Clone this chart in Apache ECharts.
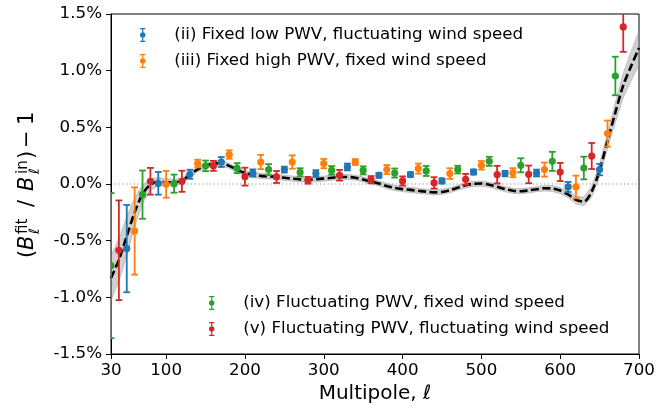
<!DOCTYPE html>
<html>
<head>
<meta charset="utf-8">
<script src="https://cdn.jsdelivr.net/npm/echarts@6/dist/echarts.min.js"></script>
<style>
  html, body { margin: 0; padding: 0; background: #fff; }
  #chart { width: 670px; height: 414px; }
</style>
</head>
<body>
<div id="chart"></div>
<script>
const FONT = '"DejaVu Sans", "Noto Sans", sans-serif';

// Multipole ticks on the x axis
const xTickValues = [30, 100, 200, 300, 400, 500, 600, 700];

const seriesNames = [
  '(ii) Fixed low PWV, fluctuating wind speed',
  '(iii) Fixed high PWV, fixed wind speed',
  '(iv) Fluctuating PWV, fixed wind speed',
  '(v) Fluctuating PWV, fluctuating wind speed'
];
const seriesColors = ['#1f77b4', '#ff7f0e', '#2ca02c', '#d62728'];

// (ii) fixed low PWV, fluctuating wind speed  (values and errors in %)
const lowPwvEll = [50, 90, 130, 170, 210, 250, 290, 330, 370, 410, 450, 490, 530, 570, 610, 650];
const lowPwvVal = [-0.57, 0.006, 0.086, 0.194, 0.097, 0.127, 0.092, 0.15, 0.077, 0.083, 0.027, 0.106, 0.092, 0.097, -0.026, 0.127];
const lowPwvErr = [0.385, 0.10, 0.04, 0.044, 0.032, 0.026, 0.03, 0.03, 0.022, 0.022, 0.022, 0.022, 0.024, 0.03, 0.044, 0.05];

// (iii) fixed high PWV, fixed wind speed
const highPwvEll = [60, 100, 140, 180, 220, 260, 300, 340, 380, 420, 460, 500, 540, 580, 620, 660];
const highPwvVal = [-0.415, -0.003, 0.18, 0.26, 0.194, 0.194, 0.18, 0.194, 0.127, 0.136, 0.092, 0.165, 0.10, 0.127, -0.026, 0.445];
const highPwvErr = [0.385, 0.118, 0.034, 0.037, 0.063, 0.059, 0.041, 0.026, 0.04, 0.044, 0.047, 0.038, 0.04, 0.062, 0.10, 0.115];

// (iv) fluctuating PWV, fixed wind speed
const flucPwvEll = [30, 70, 110, 150, 190, 230, 270, 310, 350, 390, 430, 470, 510, 550, 590, 630, 670];
const flucPwvVal = [-0.72, -0.094, 0.003, 0.16, 0.14, 0.127, 0.103, 0.12, 0.12, 0.097, 0.115, 0.127, 0.20, 0.165, 0.20, 0.141, 0.953];
const flucPwvErr = [0.64, 0.213, 0.08, 0.047, 0.044, 0.048, 0.036, 0.038, 0.036, 0.04, 0.044, 0.034, 0.04, 0.062, 0.084, 0.10, 0.17];

// (v) fluctuating PWV, fluctuating wind speed
const flucBothEll = [40, 80, 120, 160, 200, 240, 280, 320, 360, 400, 440, 480, 520, 560, 600, 640, 680];
const flucBothVal = [-0.585, 0.024, 0.024, 0.16, 0.065, 0.062, 0.033, 0.077, 0.038, 0.027, 0.01, 0.041, 0.083, 0.085, 0.106, 0.247, 1.386];
const flucBothErr = [0.44, 0.118, 0.093, 0.044, 0.079, 0.053, 0.03, 0.047, 0.032, 0.04, 0.05, 0.048, 0.077, 0.078, 0.08, 0.115, 0.22];

// Best-fit beam residual and its 1-sigma band half-width
const fitEll = [30, 40, 50, 60, 70, 80, 90, 100, 110, 120, 130, 140, 150, 160, 170, 180, 190, 200,
  210, 220, 230, 240, 250, 260, 270, 280, 290, 300, 310, 320, 330, 340, 350, 360, 370, 380, 390, 400,
  410, 420, 430, 440, 450, 460, 470, 480, 490, 500, 510, 520, 530, 540, 550, 560, 570, 580, 590, 600,
  610, 620, 630, 640, 650, 660, 670, 680, 690, 700];
const fitVal = [-0.83, -0.67, -0.46, -0.25, -0.09, -0.005, 0.02, 0.015, 0.015, 0.03, 0.08, 0.13, 0.16, 0.178, 0.185, 0.16, 0.125, 0.097,
  0.082, 0.072, 0.068, 0.063, 0.055, 0.047, 0.041, 0.039, 0.042, 0.048, 0.055, 0.062, 0.062, 0.055, 0.04, 0.022, 0.005, -0.018, -0.035, -0.045,
  -0.052, -0.06, -0.068, -0.074, -0.07, -0.055, -0.033, -0.012, 0.002, 0.004, -0.006, -0.025, -0.045, -0.06, -0.064, -0.056, -0.046, -0.038, -0.04, -0.058,
  -0.092, -0.14, -0.155, -0.065, 0.12, 0.38, 0.63, 0.87, 1.04, 1.2];
const fitErr = [0.2, 0.19, 0.17, 0.13, 0.08, 0.05, 0.038, 0.032, 0.027, 0.024, 0.023, 0.023, 0.023, 0.023, 0.023, 0.023, 0.023, 0.023,
  0.023, 0.023, 0.023, 0.023, 0.023, 0.023, 0.023, 0.023, 0.023, 0.023, 0.023, 0.023, 0.023, 0.023, 0.023, 0.023, 0.023, 0.023, 0.023, 0.023,
  0.023, 0.023, 0.023, 0.023, 0.023, 0.023, 0.023, 0.023, 0.023, 0.023, 0.023, 0.023, 0.023, 0.023, 0.023, 0.023, 0.023, 0.024, 0.026, 0.028,
  0.03, 0.034, 0.038, 0.048, 0.058, 0.07, 0.09, 0.11, 0.13, 0.15];

// Horizontal reference level (no residual)
const zeroLevel = 0;

const pointSets = [
  [lowPwvEll, lowPwvVal, lowPwvErr],
  [highPwvEll, highPwvVal, highPwvErr],
  [flucPwvEll, flucPwvVal, flucPwvErr],
  [flucBothEll, flucBothVal, flucBothErr]
];

// Error-bar glyph for the legend: caps, stem and a round marker
const errorBarIcon = 'path://M1,0H7V1.4H1Z M1,14.6H7V16H1Z M3.3,0H4.7V16H3.3Z M0.9,8A3.1,3.1 0 1 1 7.1,8A3.1,3.1 0 1 1 0.9,8Z';

function renderErrorBar(params, api) {
  const ell = api.value(0), v = api.value(1), e = api.value(2);
  const c = api.coord([ell, v]);
  const hi = api.coord([ell, v + e]);
  const lo = api.coord([ell, v - e]);
  const color = api.visual('color');
  const cap = 3.4;
  const stroke = { stroke: color, lineWidth: 1.8 };
  return {
    type: 'group',
    children: [
      { type: 'line', shape: { x1: c[0], y1: hi[1], x2: c[0], y2: lo[1] }, style: stroke },
      { type: 'line', shape: { x1: c[0] - cap, y1: hi[1], x2: c[0] + cap, y2: hi[1] }, style: stroke },
      { type: 'line', shape: { x1: c[0] - cap, y1: lo[1], x2: c[0] + cap, y2: lo[1] }, style: stroke },
      { type: 'circle', shape: { cx: c[0], cy: c[1], r: 3.6 }, style: { fill: color } }
    ]
  };
}

function renderBand(params, api) {
  const upper = [], lower = [];
  for (let i = 0; i < fitEll.length; i++) {
    upper.push(api.coord([fitEll[i], fitVal[i] + fitErr[i]]));
    lower.push(api.coord([fitEll[i], fitVal[i] - fitErr[i]]));
  }
  return {
    type: 'polygon',
    shape: { points: upper.concat(lower.reverse()) },
    style: { fill: 'rgba(150,150,150,0.45)', stroke: 'rgba(140,140,140,0.4)', lineWidth: 1 }
  };
}

// Dotted level line spanning the full multipole range
function renderZeroLine(params, api) {
  const a = api.coord([xTickValues[0], zeroLevel]);
  const b = api.coord([xTickValues[xTickValues.length - 1], zeroLevel]);
  return {
    type: 'line',
    shape: { x1: a[0], y1: a[1], x2: b[0], y2: b[1] },
    style: { stroke: '#8c8c8c', lineWidth: 1.1, lineDash: [1.2, 2.6] }
  };
}

const errorSeries = pointSets.map(function (set, k) {
  const data = set[0].map(function (ell, i) { return [ell, set[1][i], set[2][i]]; });
  return {
    name: seriesNames[k],
    type: 'custom',
    renderItem: renderErrorBar,
    clip: true,
    itemStyle: { color: seriesColors[k] },
    encode: { x: 0, y: 1 },
    data: data,
    z: 5
  };
});

const legendText = { fontFamily: FONT, fontSize: 16.7, color: '#000', lineHeight: 18 };

const option = {
  animation: false,
  backgroundColor: '#fff',
  grid: {
    left: 111, right: 31, top: 14, bottom: 60,
    show: true, borderColor: '#000', borderWidth: 1, backgroundColor: 'transparent'
  },
  xAxis: {
    type: 'value', min: 30, max: 700,
    name: 'Multipole, ℓ', nameLocation: 'middle', nameGap: 24,
    nameTextStyle: { fontFamily: FONT, fontSize: 20, color: '#000' },
    axisLine: { show: true, onZero: false, lineStyle: { color: '#000', width: 1 } },
    axisTick: { show: true, length: 5, lineStyle: { color: '#000' }, customValues: xTickValues },
    axisLabel: { fontFamily: FONT, fontSize: 16.7, color: '#000', margin: 8, customValues: xTickValues },
    splitLine: { show: false }
  },
  yAxis: {
    type: 'value', min: -1.5, max: 1.5, interval: 0.5,
    axisLine: { show: true, onZero: false, lineStyle: { color: '#000', width: 1 } },
    axisTick: { show: true, length: 5, lineStyle: { color: '#000' } },
    axisLabel: {
      fontFamily: FONT, fontSize: 16.7, color: '#000', margin: 9,
      formatter: function (v) { return v.toFixed(1) + '%'; }
    },
    splitLine: { show: false }
  },
  legend: [
    {
      data: [seriesNames[0], seriesNames[1]],
      orient: 'vertical', left: 140, top: 26, padding: 0,
      itemWidth: 53, itemHeight: 14, itemGap: 8,
      icon: errorBarIcon, selectedMode: false, textStyle: legendText
    },
    {
      data: [seriesNames[2], seriesNames[3]],
      orient: 'vertical', left: 209, top: 294, padding: 0,
      itemWidth: 53, itemHeight: 14, itemGap: 8,
      icon: errorBarIcon, selectedMode: false, textStyle: legendText
    }
  ],
  graphic: [
    {
      type: 'group',
      x: 28, y: 258,
      rotation: Math.PI / 2,
      children: [
        { type: 'text', x: 0, y: 0, style: { text: '(', font: '21px ' + FONT, fill: '#000', verticalAlign: 'middle' } },
        { type: 'text', x: 8, y: 0, style: { text: 'B', font: 'italic 21px ' + FONT, fill: '#000', verticalAlign: 'middle' } },
        { type: 'text', x: 24, y: -5, style: { text: 'fit', font: '15px ' + FONT, fill: '#000', verticalAlign: 'middle' } },
        { type: 'text', x: 24, y: 7, style: { text: 'ℓ', font: 'italic 14px ' + FONT, fill: '#000', verticalAlign: 'middle' } },
        { type: 'text', x: 51, y: 0, style: { text: '/', font: '21px ' + FONT, fill: '#000', verticalAlign: 'middle' } },
        { type: 'text', x: 67, y: 0, style: { text: 'B', font: 'italic 21px ' + FONT, fill: '#000', verticalAlign: 'middle' } },
        { type: 'text', x: 84, y: -5, style: { text: 'in', font: '15px ' + FONT, fill: '#000', verticalAlign: 'middle' } },
        { type: 'text', x: 84, y: 7, style: { text: 'ℓ', font: 'italic 14px ' + FONT, fill: '#000', verticalAlign: 'middle' } },
        { type: 'text', x: 99, y: 0, style: { text: ')', font: '21px ' + FONT, fill: '#000', verticalAlign: 'middle' } },
        { type: 'text', x: 110, y: 0, style: { text: '−', font: '21px ' + FONT, fill: '#000', verticalAlign: 'middle' } },
        { type: 'text', x: 133, y: 0, style: { text: '1', font: '21px ' + FONT, fill: '#000', verticalAlign: 'middle' } }
      ]
    }
  ],
  series: [
    {
      name: 'zero level',
      type: 'custom',
      renderItem: renderZeroLine,
      data: [[xTickValues[0], zeroLevel]],
      encode: { x: 0, y: 1 },
      silent: true,
      z: 0
    },
    {
      name: 'fit band',
      type: 'custom',
      renderItem: renderBand,
      data: [[fitEll[0], fitVal[0]]],
      encode: { x: 0, y: 1 },
      silent: true,
      z: 1
    },
    {
      name: 'fit',
      type: 'line',
      data: fitEll.map(function (ell, i) { return [ell, fitVal[i]]; }),
      smooth: 0.3,
      showSymbol: false,
      lineStyle: { color: '#000', width: 2.6, type: [8, 3.5] },
      silent: true,
      z: 3
    }
  ].concat(errorSeries)
};

const chart = echarts.init(document.getElementById('chart'), null, { renderer: 'canvas' });
chart.setOption(option);
</script>
</body>
</html>
